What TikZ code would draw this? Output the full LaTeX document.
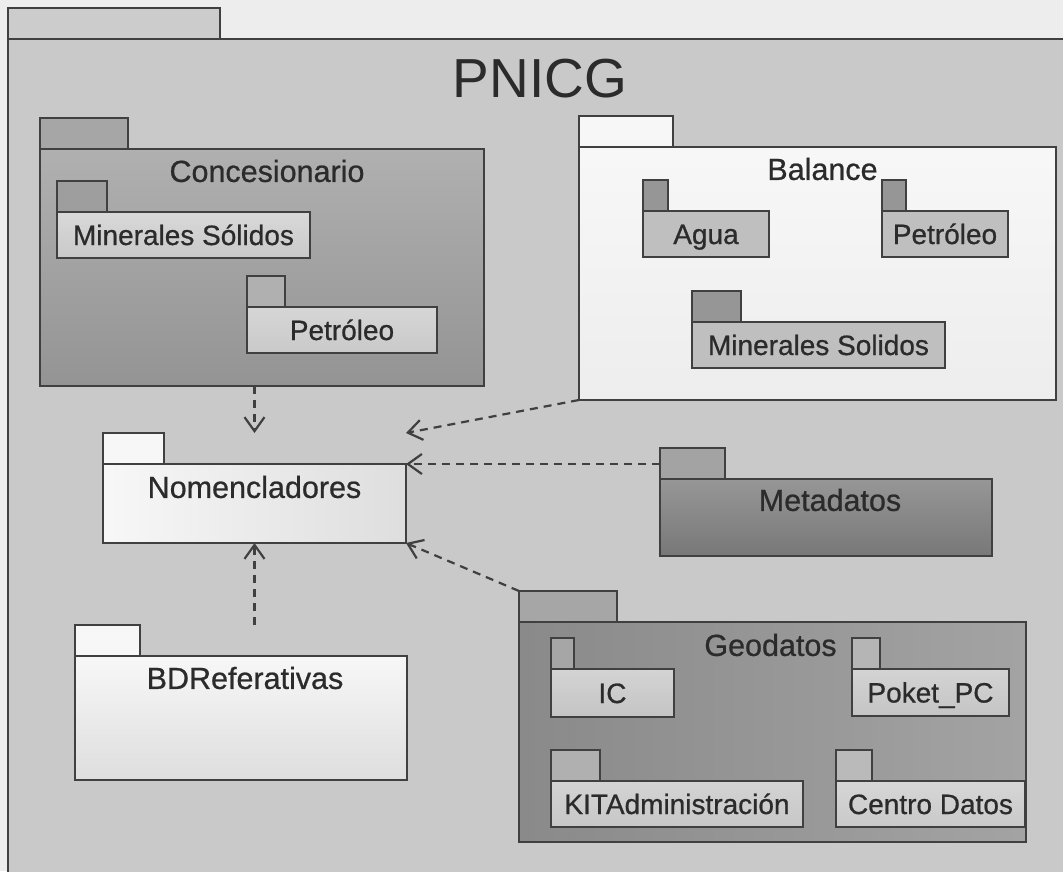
\documentclass[tikz,border=0pt]{standalone}
\usepackage{fontspec}
\setmainfont{Liberation Sans}
\newfontfamily\pkgfont{Liberation Sans}[FakeBold=0.7]
\usetikzlibrary{fit,arrows.meta}

\definecolor{pagebg}{gray}{0.93}
\definecolor{ink}{gray}{0.25}
\definecolor{txt}{gray}{0.17}

% one UML package: #1 name, (#2,#3)-(#4,#5) body corners,
% #6 right edge of the tab, #7 body style, #8 tab style
\newcommand\umlpkg[8]{%
  \node[pkgtab,#8,fit={(#2,{#3-31}) (#6,#3)}] (#1-tab) {};
  \node[pkgbody,#7,fit={(#2,#3) (#4,#5)}] (#1) {};%
}

\begin{document}
\begin{tikzpicture}[x=1pt,y=-1pt,
  pkgtab/.style={draw=ink,line width=2.2pt,inner sep=0pt,outer sep=0pt},
  pkgbody/.style={draw=ink,line width=2.2pt,inner sep=0pt,outer sep=0pt},
  bigtitle/.style={text=txt,font=\fontsize{55}{60}\selectfont,inner sep=0pt,
    text height=39.5pt,text depth=0pt},
  title/.style={text=txt,font=\pkgfont\fontsize{30.5}{34}\selectfont,inner sep=0pt,
    text height=21.8pt,text depth=0pt},
  inner/.style={text=txt,font=\pkgfont\fontsize{28}{32}\selectfont,inner sep=0pt,
    text height=20pt,text depth=0pt},
  dep/.style={draw=ink,line width=2.2pt,dash pattern=on 8pt off 6pt,
    -{Straight Barb[length=14pt,width=20pt,line width=2.2pt]}},
]
\useasboundingbox (0,0) rectangle (1063,871);
\fill[pagebg] (0,0) rectangle (1063,871);

% enclosing package
\umlpkg{pnicg}{8}{39}{1080}{890}{220}{fill=black!21}{fill=black!20}
\node[bigtitle] (pnicg-l) at (540,78) {PNICG};

% Concesionario
\umlpkg{conc}{40}{149}{484}{386}{128}{top color=black!31,bottom color=black!42}{fill=black!35}
\node[title] (conc-l) at ([xshift=5pt,yshift=-22pt]conc.north) {Concesionario};
\umlpkg{conc-ms}{57}{212}{310}{258}{107}{top color=black!15,bottom color=black!21}{fill=black!38}
\node[inner] (conc-ms-l) at (conc-ms) {Minerales Sólidos};
\umlpkg{conc-pet}{247}{307}{437}{353}{285}{top color=black!16,bottom color=black!21}{fill=black!31}
\node[inner] (conc-pet-l) at (conc-pet) {Petróleo};

% Balance
\umlpkg{bal}{579}{147}{1056}{400}{673}{top color=black!3,bottom color=black!7}{fill=black!3}
\node[title] (bal-l) at ([xshift=5pt,yshift=-22pt]bal.north) {Balance};
\umlpkg{bal-agua}{643}{211}{769}{257}{668}{fill=black!25}{fill=black!41}
\node[inner] (bal-agua-l) at (bal-agua) {Agua};
\umlpkg{bal-pet}{882}{211}{1008}{257}{906}{fill=black!25}{fill=black!41}
\node[inner] (bal-pet-l) at (bal-pet) {Petróleo};
\umlpkg{bal-ms}{692}{322}{945}{368}{741}{fill=black!25}{fill=black!41}
\node[inner] (bal-ms-l) at (bal-ms) {Minerales Solidos};

% Nomencladores
\umlpkg{nom}{103}{464}{406}{543}{164}{left color=black!3,right color=black!13}{fill=black!3}
\node[title] (nom-l) at ([yshift=-23pt]nom.north) {Nomencladores};

% Metadatos
\umlpkg{meta}{660}{479}{992}{556}{725}{top color=black!41,bottom color=black!53}{fill=black!36}
\node[title] (meta-l) at ([xshift=4pt,yshift=-21pt]meta.north) {Metadatos};

% Geodatos
\umlpkg{geo}{519}{622}{1026}{842}{617}{left color=black!46,right color=black!36}{fill=black!35}
\node[title] (geo-l) at ([xshift=-2pt,yshift=-23pt]geo.north) {Geodatos};
\umlpkg{geo-ic}{551}{669}{674}{717}{574}{top color=black!17,bottom color=black!23}{fill=black!35}
\node[inner] (geo-ic-l) at (geo-ic) {IC};
\umlpkg{geo-pc}{852}{669}{1009}{716}{880}{top color=black!17,bottom color=black!23}{fill=black!29}
\node[inner] (geo-pc-l) at (geo-pc) {Poket\_PC};
\umlpkg{geo-kit}{551}{781}{803}{827}{600}{top color=black!17,bottom color=black!22}{fill=black!31}
\node[inner] (geo-kit-l) at (geo-kit) {KITAdministración};
\umlpkg{geo-cd}{836}{781}{1025}{827}{872}{top color=black!16,bottom color=black!21}{fill=black!27}
\node[inner] (geo-cd-l) at (geo-cd) {Centro Datos};

% BDReferativas
\umlpkg{bdr}{75}{656}{407}{780}{140}{top color=black!3,bottom color=black!13}{fill=black!3}
\node[title] (bdr-l) at ([xshift=4pt,yshift=-22pt]bdr.north) {BDReferativas};

% dependencies on Nomencladores
\draw[dep] (conc.south -| nom.south) -- (nom-tab.north -| nom.south);
\draw[dep] (bal.south west) -- (nom.north east |- nom-tab.north);
\draw[dep] (meta-tab.west |- nom.north east) -- (nom.north east);
\draw[dep] (geo-tab.north west) -- (nom.south east);
\draw[dep] (bdr-tab.north -| nom.south) -- (nom.south);
\end{tikzpicture}
\end{document}
